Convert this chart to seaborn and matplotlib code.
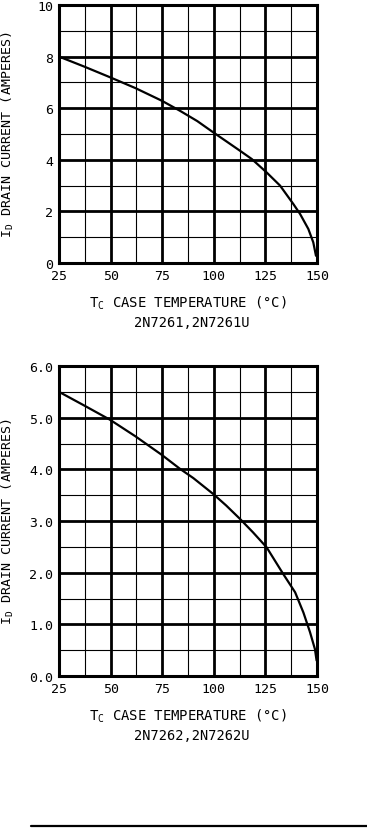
import matplotlib
matplotlib.use("Agg")
import matplotlib.pyplot as plt
import seaborn as sns
import pandas as pd
from matplotlib.lines import Line2D

# Data
temp_top = [25, 37, 49.7, 62, 74.8, 83.6, 92, 99.8, 106, 112.7, 118.4, 125.6, 132.1,
            138.5, 141.8, 145.8, 148.2, 149.5]
curr_top = [8.0, 7.62, 7.2, 6.78, 6.29, 5.90, 5.50, 5.06, 4.72, 4.35, 4.03, 3.51, 3.0,
            2.29, 1.90, 1.32, 0.80, 0.28]
temp_bot = [25, 37, 49.7, 62, 74.8, 83.6, 90.1, 99.8, 106, 112.7, 119, 125.6, 133.7,
            139.4, 143.4, 146.6, 149.0, 149.8]
curr_bot = [5.50, 5.24, 4.96, 4.64, 4.28, 4.01, 3.83, 3.52, 3.30, 3.04, 2.78, 2.49, 1.97,
            1.62, 1.23, 0.85, 0.52, 0.30]
x_ticks = [25, 50, 75, 100, 125, 150]
y_ticks_top = [0, 2, 4, 6, 8, 10]
y_ticks_bot = [0.0, 1.0, 2.0, 3.0, 4.0, 5.0, 6.0]
y_labels_top = ["0", "2", "4", "6", "8", "10"]
y_labels_bot = ["0.0", "1.0", "2.0", "3.0", "4.0", "5.0", "6.0"]
x_minor = [37.5, 62.5, 87.5, 112.5, 137.5]
y_minor_top = [1, 3, 5, 7, 9]
y_minor_bot = [0.5, 1.5, 2.5, 3.5, 4.5, 5.5]
subtitles = ["2N7261,2N7261U", "2N7262,2N7262U"]

sns.set_style("white")
plt.rcParams['font.family'] = ['DejaVu Sans Mono']
plt.rcParams['mathtext.fontset'] = 'custom'
plt.rcParams['mathtext.rm'] = 'DejaVu Sans Mono'
plt.rcParams['mathtext.it'] = 'DejaVu Sans Mono'
plt.rcParams['text.color'] = 'black'
plt.rcParams['axes.labelcolor'] = 'black'

W, H = 367, 829
fig = plt.figure(figsize=(W / 100, H / 100), dpi=100)

def px_axes(left, top, right, bottom):
    return fig.add_axes([left / W, 1 - bottom / H, (right - left) / W, (bottom - top) / H])

ax1 = px_axes(59, 6, 317, 264)
ax2 = px_axes(59, 367, 317, 677)

configs = [
    (ax1, temp_top, curr_top, y_ticks_top, y_labels_top, y_minor_top, (0, 10), subtitles[0], 323),
    (ax2, temp_bot, curr_bot, y_ticks_bot, y_labels_bot, y_minor_bot, (0, 6), subtitles[1], 736),
]

for ax, tx, cy, yt, yl, ym, ylim, sub, sub_y in configs:
    df = pd.DataFrame({"T": tx, "I": cy})
    for v in x_minor:
        ax.axvline(v, color="black", lw=0.8, zorder=1)
    for v in ym:
        ax.axhline(v, color="black", lw=0.8, zorder=1)
    for v in x_ticks[1:-1]:
        ax.axvline(v, color="black", lw=2.0, zorder=1)
    for v in yt[1:-1]:
        ax.axhline(v, color="black", lw=2.0, zorder=1)
    sns.lineplot(data=df, x="T", y="I", ax=ax, color="black", lw=1.6, zorder=3)
    ax.set_xlim(25, 150)
    ax.set_ylim(*ylim)
    ax.set_xticks(x_ticks)
    ax.set_xticklabels([str(v) for v in x_ticks])
    ax.set_yticks(yt)
    ax.set_yticklabels(yl)
    ax.tick_params(length=0, labelsize=9.5, pad=4, colors="black")
    for s in ax.spines.values():
        s.set_linewidth(2.2)
        s.set_color("black")
    ax.set_xlabel(r"T$_{\mathrm{C}}$ CASE TEMPERATURE (°C)", fontsize=10, labelpad=9)
    ax.set_ylabel(r"I$_{\mathrm{D}}$ DRAIN CURRENT (AMPERES)", fontsize=9.6)
    ax.yaxis.set_label_coords(-0.165, 0.5)
    fig.text(192 / W, 1 - sub_y / H, sub, ha="center", va="center", fontsize=9.8)

fig.add_artist(Line2D([31 / W, 1.0], [1 - 827 / H, 1 - 827 / H], color="black", lw=1.6,
                      transform=fig.transFigure))

fig.savefig("out.png", dpi=100)
